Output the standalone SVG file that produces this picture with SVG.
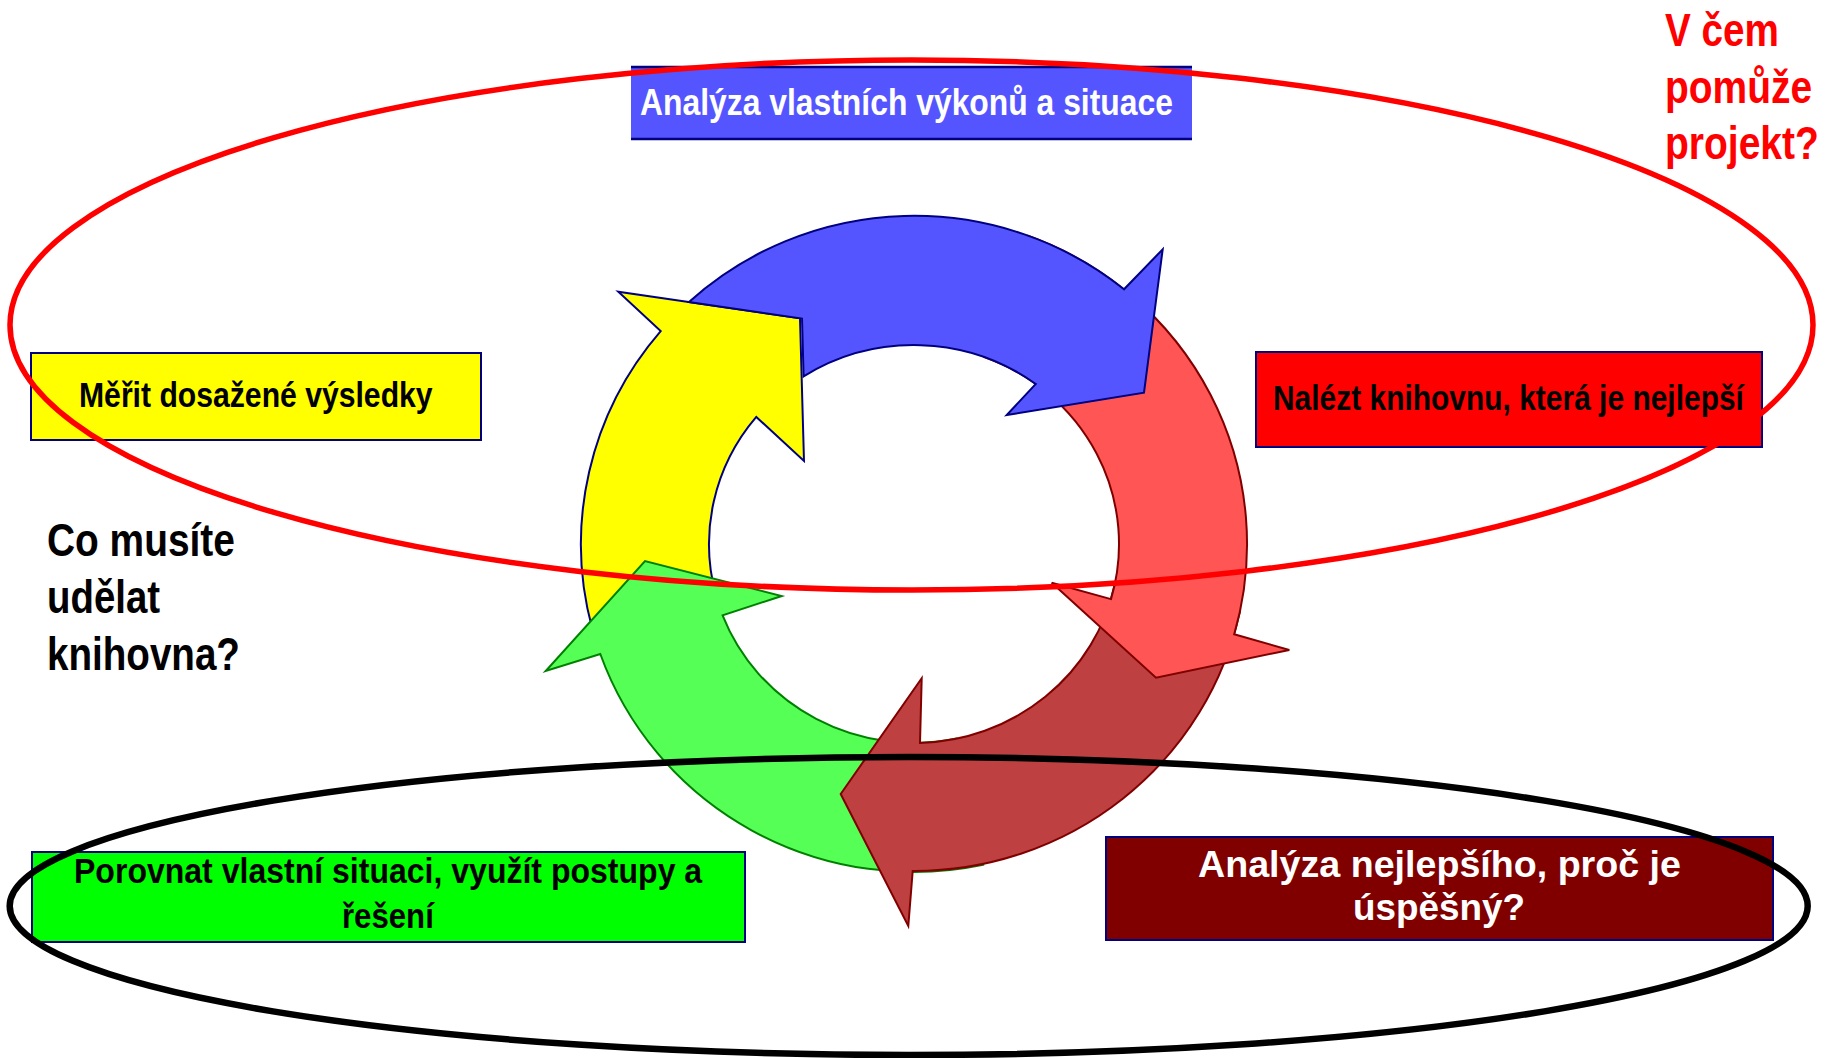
<svg xmlns="http://www.w3.org/2000/svg" width="1835" height="1058" viewBox="0 0 1835 1058">
<style>
.t{font-family:"Liberation Sans",Arial,sans-serif;font-weight:bold}
.tw{font-family:"Liberation Sans",Arial,sans-serif;font-weight:bold}
.box{stroke:#000080;stroke-width:2}
.arr-navy{stroke:#000080;stroke-width:2;stroke-linejoin:miter}
.arr-red{stroke:#800000;stroke-width:2;stroke-linejoin:miter}
.arr-green{stroke:#008000;stroke-width:2;stroke-linejoin:miter}
</style>
<rect width="1835" height="1058" fill="#ffffff"/>

<g id="cycle-arrows">
  <path id="arrow-yellow" class="arr-navy" fill="#FFFF00" d="M 592.3,628.9 A 333 328 0 0 1 660.7,331.1 L 618.3,291.7 L 800,318.3 L 804,461 L 756.3,416.9 A 205 199 0 0 0 716,595.5 Z"/>
  <path id="arrow-green" class="arr-green" fill="#55FF55" d="M 983.2,864.8 A 333 328 0 0 1 600.3,654 L 545.7,671 L 645,561 L 781.7,596 L 722.6,615.4 A 205 199 0 0 0 956.6,738.6 Z"/>
  <path id="arrow-darkred" class="arr-red" fill="#BF4040" d="M 1239.7,612.2 A 333 328 0 0 1 912.7,871 L 908.3,926 L 840.7,794 L 921.7,678.3 L 920,742.9 A 205 199 0 0 0 1114.5,585.4 Z"/>
  <path id="arrow-red" class="arr-red" fill="#FF5555" d="M 1027.9,235.8 A 333 328 0 0 1 1234.2,634.2 L 1289.3,650 L 1156,677.7 L 1051.7,582.7 L 1111,599.1 A 205 199 0 0 0 984.1,357 Z"/>
  <path id="arrow-blue" class="arr-navy" fill="#5555FF" d="M 689,302 A 333 328 0 0 1 1124,289.3 L 1162.7,249.3 L 1144,392.7 L 1006.7,415 L 1035.8,384 A 205 199 0 0 0 803.6,376.4 L 802,318.5 Z"/>
</g>

<g id="node-analyza-vlastni">
  <rect x="631" y="67" width="561" height="72" fill="#5555FF"/>
  <line x1="631" y1="67" x2="1192" y2="67" stroke="#000080" stroke-width="2.5"/>
  <line x1="631" y1="139" x2="1192" y2="139" stroke="#000080" stroke-width="2.5"/>
  <text class="t" transform="translate(640,115) scale(0.85,1)" x="0" y="0" font-size="37" fill="#ffffff" textLength="627" lengthAdjust="spacingAndGlyphs">Analýza vlastních výkonů a situace</text>
</g>

<g id="node-merit">
  <rect class="box" x="31" y="353" width="450" height="87" fill="#FFFF00"/>
  <text class="t" transform="translate(79,407) scale(0.85,1)" x="0" y="0" font-size="36" fill="#000000" textLength="416" lengthAdjust="spacingAndGlyphs">Měřit dosažené výsledky</text>
</g>

<g id="node-nalezt">
  <rect class="box" x="1256" y="352" width="506" height="95" fill="#FF0000"/>
  <text class="t" transform="translate(1273,410) scale(0.85,1)" x="0" y="0" font-size="36" fill="#000000" textLength="554" lengthAdjust="spacingAndGlyphs">Nalézt knihovnu, která je nejlepší</text>
</g>

<g id="node-porovnat">
  <rect class="box" x="32" y="852" width="713" height="90" fill="#00FF00"/>
  <text class="t" transform="translate(74,883) scale(0.85,1)" x="0" y="0" font-size="36" fill="#000000" textLength="739" lengthAdjust="spacingAndGlyphs">Porovnat vlastní situaci, využít postupy a</text>
  <text class="t" transform="translate(342,928) scale(0.85,1)" x="0" y="0" font-size="36" fill="#000000" textLength="108" lengthAdjust="spacingAndGlyphs">řešení</text>
</g>

<g id="node-analyza-nejlepsiho">
  <rect class="box" x="1106" y="837" width="667" height="103" fill="#800000"/>
  <text class="tw" x="1198" y="877" font-size="37" fill="#ffffff" textLength="483" lengthAdjust="spacingAndGlyphs">Analýza nejlepšího, proč je</text>
  <text class="tw" x="1353" y="920" font-size="37" fill="#ffffff" textLength="172" lengthAdjust="spacingAndGlyphs">úspěšný?</text>
</g>

<g id="label-co-musite">
  <text class="t" transform="translate(47,556) scale(0.85,1)" x="0" y="0" font-size="46" fill="#000000" textLength="221" lengthAdjust="spacingAndGlyphs">Co musíte</text>
  <text class="t" transform="translate(47,613) scale(0.85,1)" x="0" y="0" font-size="46" fill="#000000" textLength="133" lengthAdjust="spacingAndGlyphs">udělat</text>
  <text class="t" transform="translate(47,670) scale(0.85,1)" x="0" y="0" font-size="46" fill="#000000" textLength="227" lengthAdjust="spacingAndGlyphs">knihovna?</text>
</g>

<g id="label-v-cem">
  <text class="t" transform="translate(1665,46) scale(0.85,1)" x="0" y="0" font-size="46" fill="#FF0000" textLength="134" lengthAdjust="spacingAndGlyphs">V čem</text>
  <text class="t" transform="translate(1665,103) scale(0.85,1)" x="0" y="0" font-size="46" fill="#FF0000" textLength="173" lengthAdjust="spacingAndGlyphs">pomůže</text>
  <text class="t" transform="translate(1665,159) scale(0.85,1)" x="0" y="0" font-size="46" fill="#FF0000" textLength="181" lengthAdjust="spacingAndGlyphs">projekt?</text>
</g>

<g id="ellipse-projekt">
  <ellipse cx="911.5" cy="325" rx="901.5" ry="265" fill="none" stroke="#FF0000" stroke-width="5.5"/>
</g>
<g id="ellipse-knihovna">
  <ellipse cx="908.7" cy="906" rx="899" ry="149" fill="none" stroke="#000000" stroke-width="6.5"/>
</g>
</svg>
